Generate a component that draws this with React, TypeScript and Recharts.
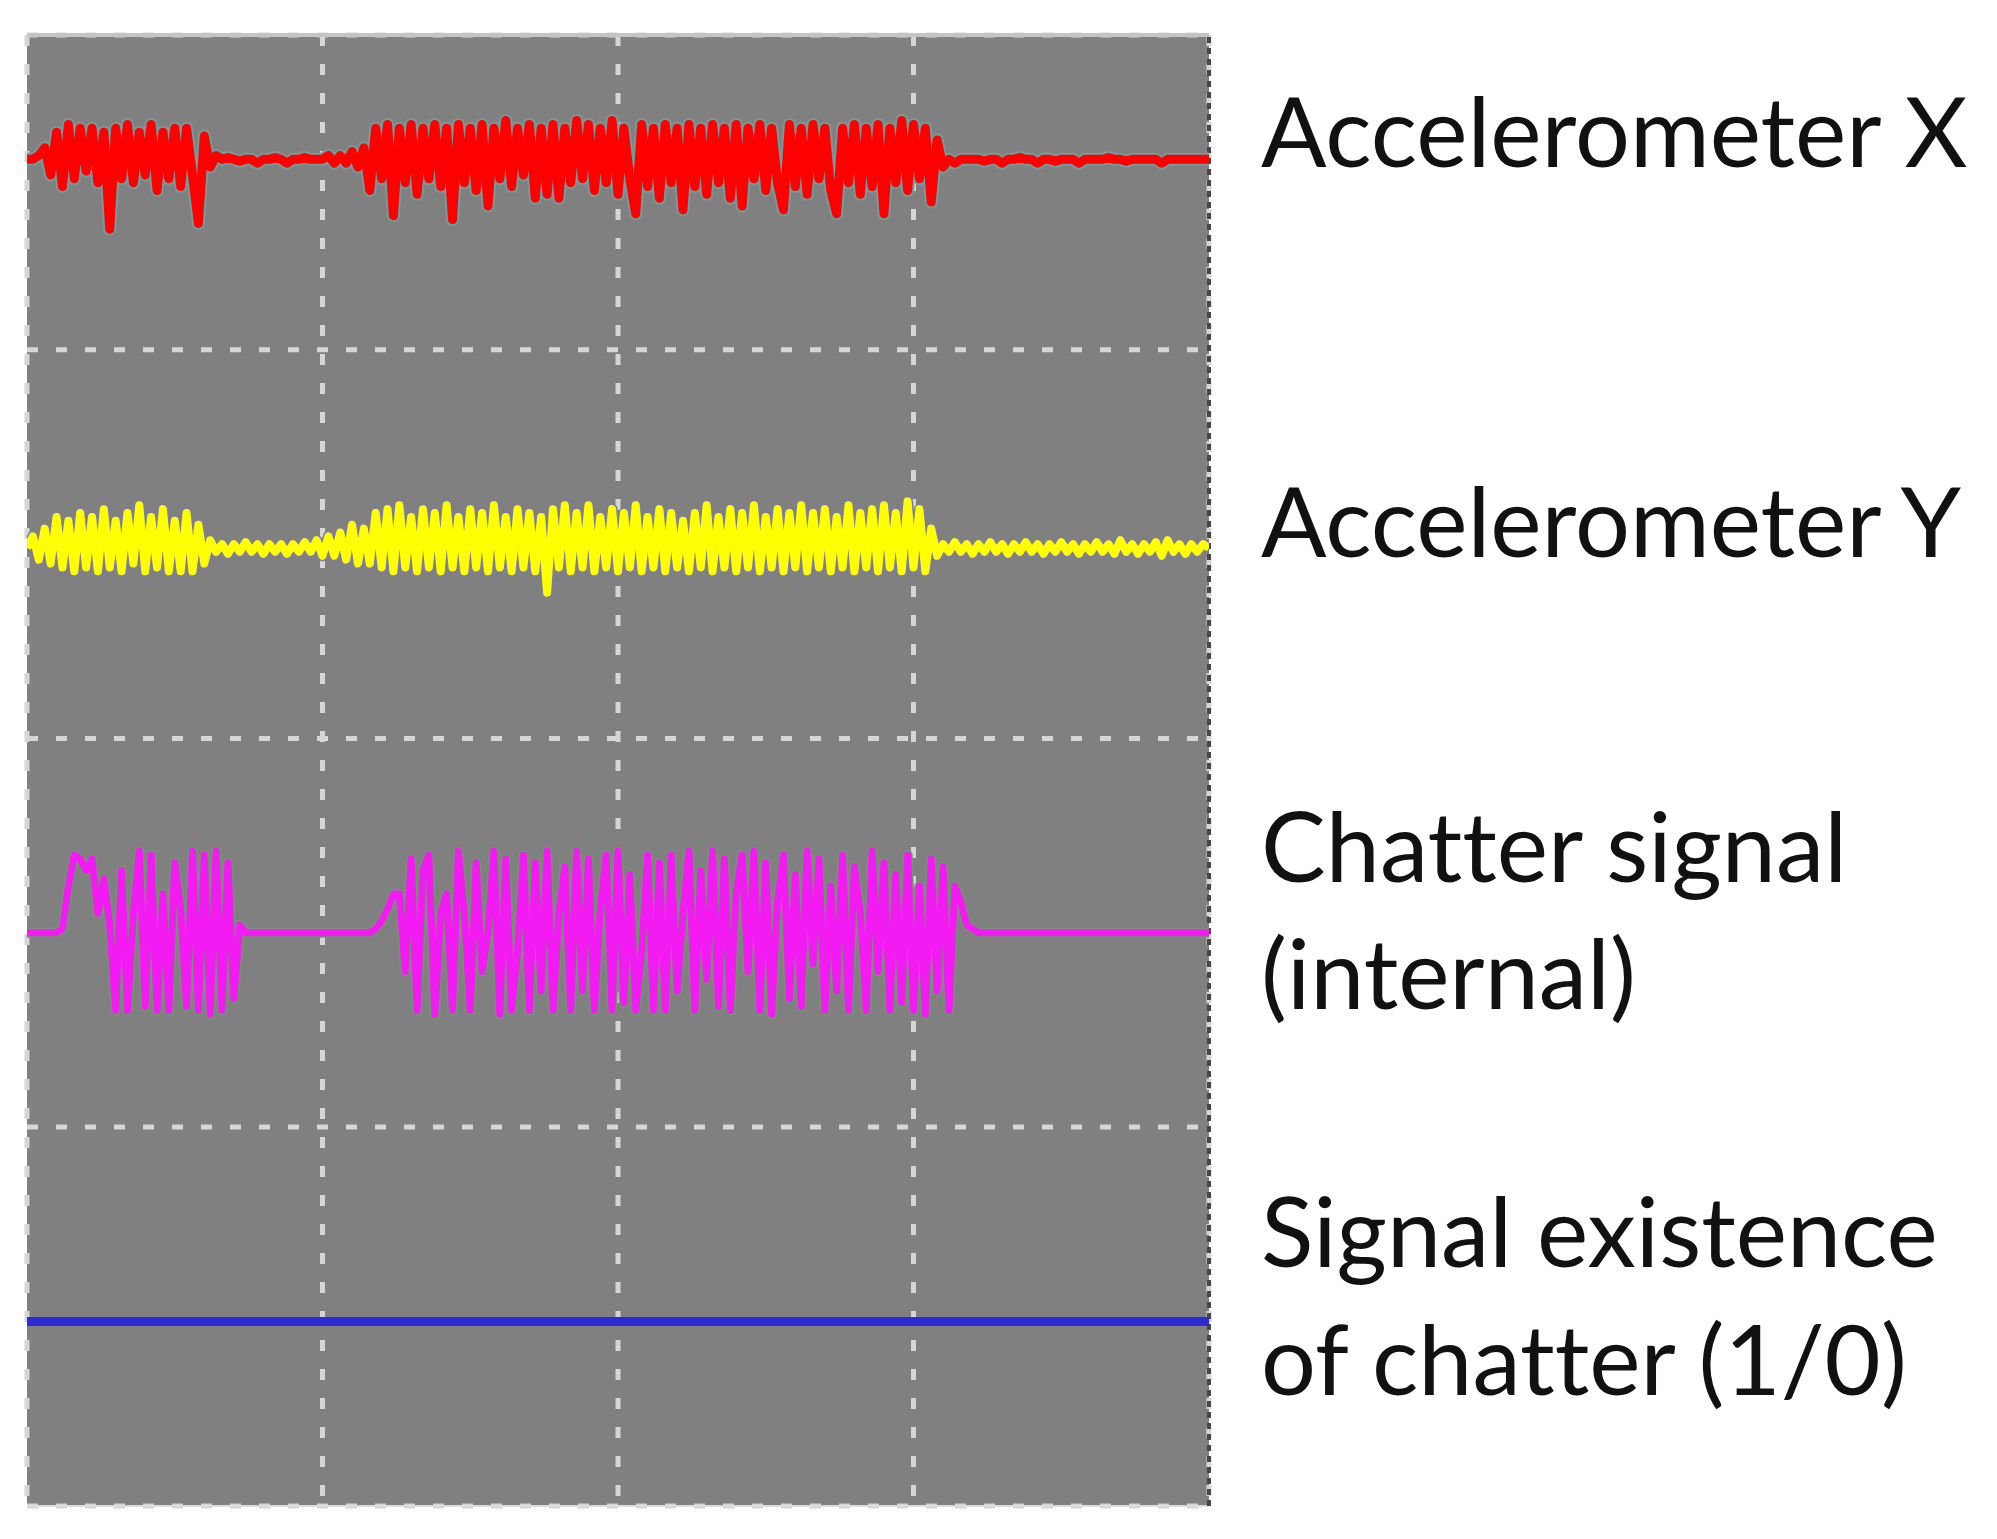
import { CartesianGrid, Line, LineChart, ReferenceLine, XAxis, YAxis } from "recharts";

// time axis: 4 divisions of 100 units, one sample every 2 units
const time: number[] = Array.from({ length: 201 }, (_, i) => i * 2);

// all values in scope divisions, 0 = channel baseline
const accelX: number[] = [
  0, 0, 0.01, 0.03, -0.04, 0.07, -0.07, 0.09, -0.05, 0.08,
  -0.03, 0.08, -0.06, 0.07, -0.18, 0.08, -0.05, 0.09, -0.06, 0.07,
  -0.04, 0.09, -0.08, 0.07, -0.05, 0.08, -0.07, 0.08, -0.04, -0.165,
  0.06, -0.02, 0.01, 0, 0.005, 0, -0.005, 0, 0, -0.01,
  0, 0, 0.005, 0, -0.01, 0, 0, 0.005, 0, 0,
  0, 0.01, -0.01, 0.01, -0.01, 0.02, -0.02, 0.03, -0.08, 0.08,
  -0.05, 0.09, -0.145, 0.08, -0.06, 0.09, -0.09, 0.08, -0.05, 0.09,
  -0.07, 0.08, -0.155, 0.09, -0.06, 0.08, -0.08, 0.09, -0.12, 0.08,
  -0.05, 0.1, -0.07, 0.08, -0.04, 0.09, -0.1, 0.08, -0.09, 0.09,
  -0.1, 0.08, -0.06, 0.1, -0.05, 0.09, -0.08, 0.08, -0.06, 0.1,
  -0.09, 0.08, -0.05, -0.14, 0.09, -0.07, 0.08, -0.1, 0.09, -0.06,
  0.08, -0.13, 0.09, -0.07, 0.08, -0.09, 0.09, -0.06, 0.08, -0.1,
  0.09, -0.12, 0.08, -0.05, 0.09, -0.08, 0.08, -0.06, -0.13, 0.09,
  -0.07, 0.08, -0.09, 0.09, -0.05, 0.08, -0.08, -0.14, 0.08, -0.06,
  0.09, -0.09, 0.08, -0.07, 0.09, -0.14, 0.08, -0.06, 0.1, -0.08,
  0.09, -0.05, 0.08, -0.11, 0.05, -0.02, 0, -0.01, 0, 0,
  0, 0, -0.005, 0, 0, -0.01, 0, 0, 0.005, 0,
  0, -0.01, 0, 0, -0.005, 0, 0, 0, -0.01, 0,
  0, 0, 0, 0.005, 0, 0, -0.005, 0, 0, 0,
  0, 0, -0.01, 0, 0, 0, 0, 0, 0, 0,
  0,
];

const accelY: number[] = [
  0, 0.03, -0.03, 0.05, -0.04, 0.08, -0.05, 0.07, -0.06, 0.09,
  -0.05, 0.08, -0.06, 0.1, -0.05, 0.07, -0.06, 0.09, -0.04, 0.11,
  -0.06, 0.08, -0.05, 0.1, -0.06, 0.07, -0.06, 0.09, -0.06, 0.06,
  -0.04, 0.02, -0.01, 0.01, -0.015, 0.01, -0.01, 0.015, -0.01, 0.01,
  -0.015, 0.01, -0.01, 0.01, -0.015, 0.01, -0.01, 0.015, -0.01, 0.02,
  -0.02, 0.03, -0.02, 0.04, -0.03, 0.06, -0.04, 0.05, -0.04, 0.09,
  -0.05, 0.1, -0.06, 0.11, -0.05, 0.08, -0.06, 0.1, -0.05, 0.09,
  -0.06, 0.11, -0.05, 0.08, -0.06, 0.1, -0.05, 0.09, -0.06, 0.11,
  -0.05, 0.08, -0.06, 0.1, -0.05, 0.09, -0.06, 0.08, -0.115, 0.1,
  -0.05, 0.11, -0.06, 0.09, -0.05, 0.11, -0.06, 0.08, -0.05, 0.1,
  -0.06, 0.09, -0.05, 0.11, -0.06, 0.08, -0.05, 0.1, -0.06, 0.09,
  -0.05, 0.07, -0.06, 0.09, -0.05, 0.11, -0.06, 0.08, -0.05, 0.1,
  -0.06, 0.09, -0.05, 0.11, -0.06, 0.08, -0.05, 0.1, -0.06, 0.09,
  -0.05, 0.11, -0.06, 0.09, -0.05, 0.1, -0.06, 0.08, -0.05, 0.11,
  -0.06, 0.09, -0.05, 0.1, -0.06, 0.11, -0.05, 0.09, -0.06, 0.12,
  -0.05, 0.1, -0.06, 0.05, -0.02, 0.01, -0.01, 0.015, -0.01, 0.01,
  -0.015, 0.01, -0.01, 0.015, -0.01, 0.01, -0.015, 0.01, -0.01, 0.015,
  -0.01, 0.01, -0.015, 0.01, -0.01, 0.015, -0.01, 0.01, -0.015, 0.01,
  -0.01, 0.015, -0.01, 0.01, -0.015, 0.02, -0.01, 0.01, -0.015, 0.01,
  -0.01, 0.015, -0.02, 0.02, -0.01, 0.01, -0.015, 0.01, -0.01, 0.01,
  0,
];

const chatter: number[] = [
  0, 0, 0, 0, 0, 0, 0.01, 0.12, 0.2, 0.19,
  0.16, 0.19, 0.05, 0.14, 0.02, -0.2, 0.16, -0.2, 0.05, 0.21,
  -0.19, 0.2, -0.2, 0.1, -0.2, 0.18, 0.06, -0.19, 0.21, -0.2,
  0.2, -0.21, 0.21, -0.2, 0.18, -0.17, 0.02, 0, 0, 0,
  0, 0, 0, 0, 0, 0, 0, 0, 0, 0,
  0, 0, 0, 0, 0, 0, 0, 0, 0, 0.01,
  0.03, 0.06, 0.1, 0.1, -0.1, 0.19, -0.2, 0.16, 0.2, -0.21,
  0.05, 0.1, -0.2, 0.21, 0.05, -0.2, 0.18, -0.1, 0, 0.21,
  -0.21, 0.19, -0.2, -0.05, 0.2, -0.2, 0.18, -0.15, 0.21, -0.2,
  0.05, 0.17, -0.2, 0.21, -0.15, 0.19, -0.2, 0.06, 0.2, -0.2,
  0.21, -0.18, 0.15, -0.2, -0.05, 0.2, -0.2, 0.18, -0.2, 0.2,
  -0.15, 0.05, 0.21, -0.2, 0.16, -0.12, 0.21, -0.19, 0.19, -0.2,
  0.1, 0.2, -0.1, 0.21, -0.2, 0.18, -0.21, 0.08, 0.2, -0.17,
  0.15, -0.19, 0.21, -0.08, 0.19, -0.2, 0.12, -0.15, 0.2, -0.2,
  0.17, 0.05, -0.2, 0.21, -0.1, 0.18, -0.2, 0.15, -0.18, 0.2,
  -0.2, 0.12, -0.21, 0.19, -0.15, 0.17, -0.2, 0.12, 0.08, 0.02,
  0.01, 0, 0, 0, 0, 0, 0, 0, 0, 0,
  0, 0, 0, 0, 0, 0, 0, 0, 0, 0,
  0, 0, 0, 0, 0, 0, 0, 0, 0, 0,
  0, 0, 0, 0, 0, 0, 0, 0, 0, 0,
  0,
];

const existenceTime: number[] = [0, 400];
const existence: number[] = [0, 0];

const labels: string[][] = [
  ["Accelerometer X"],
  ["Accelerometer Y"],
  ["Chatter signal", "(internal)"],
  ["Signal existence", "of chatter (1/0)"],
];

// layout
const W = 1997;
const H = 1539;
const MARGIN = { top: 35, right: 788, bottom: 33, left: 27 };
const DIV_MIN = 0.025;
const DIV_MAX = 3.81;
const BASE = { ax: 3.49, ay: 2.49, ch: 1.5, ex: 0.5 };
const LABEL_X = 1261;
const LABEL_BASELINES = [[167], [557], [882, 1009], [1267, 1395]];

const rows = time.map((t, i) => ({ t, ax: accelX[i], ay: accelY[i], ch: chatter[i] }));
const existRows = existenceTime.map((t, i) => ({ t, ex: existence[i] }));

const channelDomain = (base: number): [number, number] => [DIV_MIN - base, DIV_MAX - base];

export default function App() {
  return (
    <div style={{ position: "absolute", left: 0, top: 0, width: W, height: H, background: "#fff" }}>
      <LineChart width={W} height={H} data={rows} margin={MARGIN}>
        <XAxis
          type="number"
          dataKey="t"
          domain={[0, 400]}
          ticks={[0, 100, 200, 300]}
          allowDataOverflow
          hide
        />
        <YAxis type="number" domain={[DIV_MIN, DIV_MAX]} ticks={[1, 2, 3]} allowDataOverflow hide />
        <YAxis yAxisId="ax" type="number" domain={channelDomain(BASE.ax)} allowDataOverflow hide />
        <YAxis yAxisId="ay" type="number" domain={channelDomain(BASE.ay)} allowDataOverflow hide />
        <YAxis yAxisId="ch" type="number" domain={channelDomain(BASE.ch)} allowDataOverflow hide />
        <YAxis yAxisId="ex" type="number" domain={channelDomain(BASE.ex)} allowDataOverflow hide />
        <CartesianGrid
          fill="#808080"
          fillOpacity={1}
          stroke="#d6d6d6"
          strokeWidth={5}
          strokeDasharray="11 18"
        />
        <ReferenceLine y={DIV_MAX} stroke="#c4c4c4" strokeWidth={4} />
        <ReferenceLine y={DIV_MIN} stroke="#dcdcdc" strokeWidth={2} />
        <ReferenceLine x={400} stroke="#474747" strokeWidth={4} strokeDasharray="6 5" />

        <Line yAxisId="ax" dataKey="ax" type="linear" stroke="#6f9c9c" strokeWidth={13} strokeLinejoin="round" dot={false} isAnimationActive={false} />
        <Line yAxisId="ax" dataKey="ax" type="linear" stroke="#ff0000" strokeWidth={9} strokeLinejoin="round" dot={false} isAnimationActive={false} />
        <Line yAxisId="ay" dataKey="ay" type="linear" stroke="#7c7ca6" strokeWidth={11} strokeLinejoin="round" dot={false} isAnimationActive={false} />
        <Line yAxisId="ay" dataKey="ay" type="linear" stroke="#ffff00" strokeWidth={8} strokeLinejoin="round" dot={false} isAnimationActive={false} />
        <Line yAxisId="ch" dataKey="ch" type="linear" stroke="#6f966f" strokeWidth={10} strokeLinejoin="round" dot={false} isAnimationActive={false} />
        <Line yAxisId="ch" dataKey="ch" type="linear" stroke="#f21cf2" strokeWidth={7} strokeLinejoin="round" dot={false} isAnimationActive={false} />
        <Line
          data={existRows}
          yAxisId="ex"
          dataKey="ex"
          type="linear"
          stroke="#2b2bd6"
          strokeWidth={9}
          dot={false}
          isAnimationActive={false}
        />
      </LineChart>
      <svg
        width={W}
        height={H}
        style={{ position: "absolute", left: 0, top: 0, pointerEvents: "none" }}
      >
        {labels.map((lines, i) =>
          lines.map((line, j) => (
            <text
              key={`${i}-${j}`}
              x={LABEL_X}
              y={LABEL_BASELINES[i][j]}
              fontFamily="Lato, 'Open Sans', sans-serif"
              fontSize={97}
              fill="#111"
              style={{ fontVariantLigatures: "none", fontFeatureSettings: "'liga' 0" }}
            >
              {line}
            </text>
          )),
        )}
      </svg>
    </div>
  );
}
